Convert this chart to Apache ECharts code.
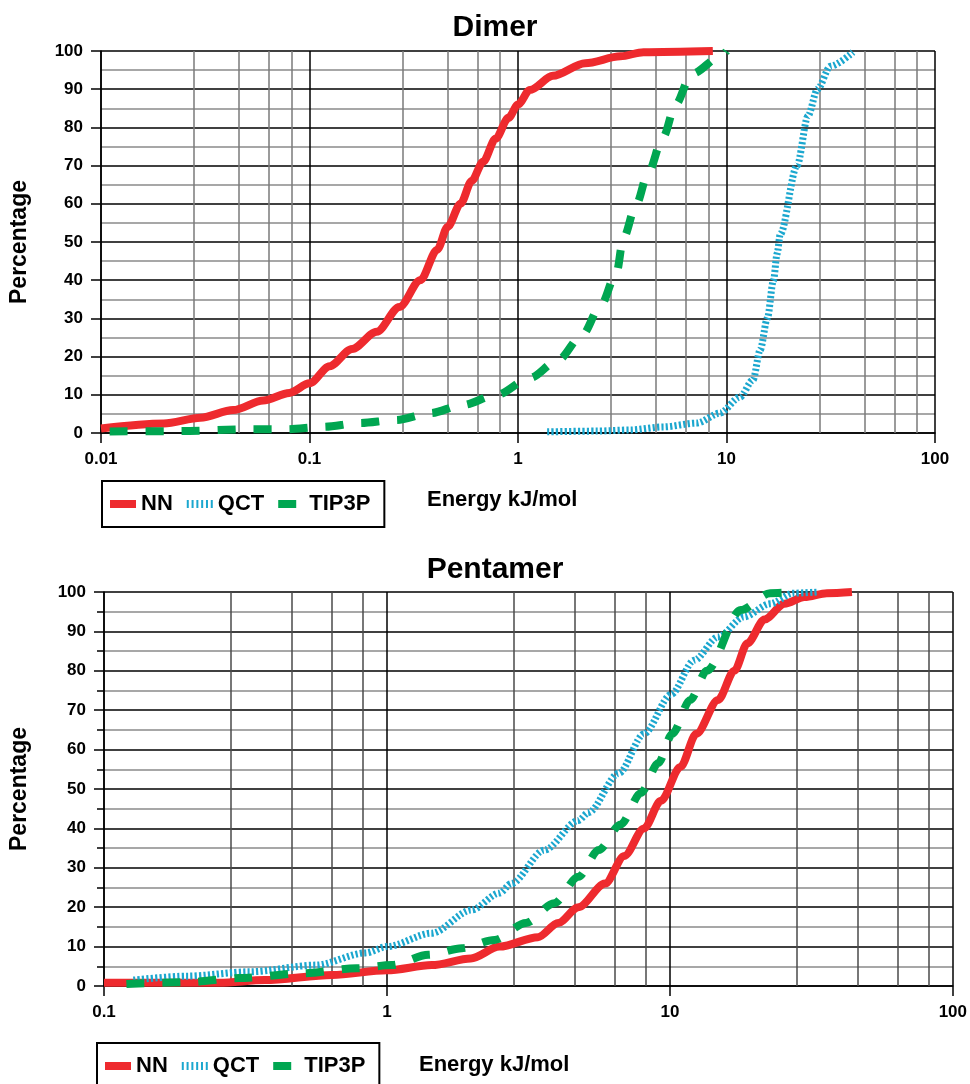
<!DOCTYPE html>
<html>
<head>
<meta charset="utf-8">
<script src="https://cdn.jsdelivr.net/npm/echarts@6/dist/echarts.min.js"></script>
<style>
  html, body { margin: 0; padding: 0; background: #fff; }
  #chart { width: 970px; height: 1084px; }
</style>
</head>
<body>
<div id="chart"></div>
<script>
  // energies (kJ/mol) vs cumulative percentage
  var dimerNN = [[0.01, 1.2], [0.02, 2.5], [0.03, 4], [0.043, 6], [0.06, 8.5], [0.08, 10.5], [0.1, 13],
    [0.125, 17.5], [0.16, 22], [0.21, 26.5], [0.27, 33], [0.34, 40], [0.41, 48], [0.46, 54], [0.53, 60],
    [0.6, 66], [0.68, 71], [0.78, 77], [0.9, 82.5], [1.0, 86], [1.14, 89.8], [1.47, 93.5], [2.1, 96.8],
    [3.1, 98.6], [4.0, 99.7], [8.6, 100]];
  var dimerQCT = [[1.38, 0.3], [2.38, 0.5], [3.45, 0.8], [4.97, 1.6], [7.2, 2.6], [9.3, 5.2], [11.6, 9.4],
    [13.4, 13.9], [14.5, 21.7], [15.7, 30], [16.8, 40], [17.5, 47], [18.1, 52], [21.8, 70], [24.6, 83],
    [27.3, 90], [31.5, 96], [40.4, 99.7]];
  var dimerTIP3P = [[0.011, 0.4], [0.024, 0.5], [0.052, 1], [0.078, 1], [0.116, 1.6], [0.174, 2.6], [0.26, 3.4],
    [0.38, 5.2], [0.54, 7.3], [0.79, 10], [1.14, 14.4], [1.55, 19], [2.03, 25.6], [2.5, 33.5], [2.97, 42],
    [3.2, 51], [3.7, 60], [4.2, 68], [4.97, 77.5], [5.7, 86], [6.8, 94], [9.6, 99], [10, 100]];

  var pentNN = [[0.1, 0.8], [0.256, 0.8], [0.37, 1.5], [0.64, 2.8], [1.0, 4], [1.44, 5.3], [1.98, 7],
    [2.5, 10], [3.42, 12.4], [4.03, 16], [4.75, 20], [5.9, 26], [6.9, 33], [8.1, 40], [9.3, 47],
    [10.9, 55.6], [12.4, 64], [14.8, 72.6], [16.9, 80], [18.8, 87], [21.6, 93], [25.4, 97], [29.9, 98.7],
    [35.9, 99.7], [44, 100]];
  var pentQCT = [[0.127, 1.5], [0.196, 2.5], [0.326, 3.6], [0.56, 5.3], [0.84, 8.4], [1.0, 10], [1.44, 13.4],
    [1.99, 19.3], [2.5, 23.6], [2.75, 26], [3.6, 34.5], [4.75, 42], [5.15, 44], [6.6, 54], [8.1, 64],
    [10.1, 74], [12.2, 82.7], [14.8, 88.6], [18.3, 93.7], [22.6, 97], [27.3, 99.7], [33, 100]];
  var pentTIP3P = [[0.12, 0.5], [0.2, 1], [0.3, 2], [0.5, 3.2], [0.78, 4.5], [1.04, 5.3], [1.4, 7.9],
    [1.84, 9.6], [2.4, 11.7], [3.1, 16], [3.9, 21], [4.75, 27.7], [5.6, 34.5], [6.7, 41], [7.9, 49],
    [9.1, 56.6], [10.2, 64], [11.8, 72.6], [13.5, 80], [17.8, 95.4], [22.6, 99.7], [28, 100]];

  var dimerDecades = [0.01, 0.1, 1, 10];
  var pentDecades = [0.1, 1, 10];
  var minorSteps = [2.8, 4.6, 6.4, 8.2];
  var seriesNames = ['NN', 'QCT', 'TIP3P'];

  var font = '"Liberation Sans", Arial, sans-serif';
  var red = '#ee2a2e', cyan = '#1ba7cf', green = '#00a651';

  function minorLines(decades) {
    var out = [];
    decades.forEach(function (d) {
      minorSteps.forEach(function (m) {
        var v = d * m;
        out.push({coords: [[v, 0], [v, 100]]});
      });
    });
    return out;
  }

  function xAxisFor(idx, min) {
    return {
      type: 'log', logBase: 10, gridIndex: idx, min: min, max: 100,
      axisLine: {lineStyle: {color: '#000', width: 1.5}},
      axisTick: {length: 10, lineStyle: {color: '#000', width: 1.5}},
      axisLabel: {color: '#000', fontFamily: font, fontWeight: 'bold', fontSize: 17, margin: 18},
      splitLine: {show: true, lineStyle: {color: '#000', width: 1.5}},
      minorTick: {show: false}, minorSplitLine: {show: false}
    };
  }

  function yAxisFor(idx, gap, minorTicks) {
    return {
      type: 'value', gridIndex: idx, min: 0, max: 100, interval: 10,
      name: 'Percentage', nameLocation: 'middle', nameGap: gap, nameRotate: 90,
      nameTextStyle: {color: '#000', fontFamily: font, fontWeight: 'bold', fontSize: 23},
      axisLine: {show: true, lineStyle: {color: '#000', width: 1.5}},
      axisTick: {show: true, length: 10, lineStyle: {color: '#000', width: 1.5}},
      axisLabel: {color: '#000', fontFamily: font, fontWeight: 'bold', fontSize: 17, margin: 18},
      splitLine: {show: true, lineStyle: {color: '#000', width: 1.5}},
      minorTick: {show: minorTicks, splitNumber: 2, length: 7, lineStyle: {color: '#000', width: 1.5}},
      minorSplitLine: {show: true, lineStyle: {color: '#8a8a8a', width: 1.5}}
    };
  }

  function curve(name, data, idx) {
    var style = {
      NN: {color: red, width: 8, type: 'solid'},
      QCT: {color: cyan, width: 7, type: [2.2, 2.2]},
      TIP3P: {color: green, width: 8, type: [18, 18]}
    }[name];
    return {
      name: name, type: 'line', xAxisIndex: idx, yAxisIndex: idx, data: data,
      showSymbol: false, symbol: 'none', smooth: 0.3, smoothMonotone: 'x',
      lineStyle: {color: style.color, width: style.width, type: style.type, cap: 'butt'},
      itemStyle: {color: style.color}, z: name === 'NN' ? 3 : (name === 'QCT' ? 4 : 5)
    };
  }

  function gridLines(idx, decades, color) {
    return {
      type: 'lines', coordinateSystem: 'cartesian2d', xAxisIndex: idx, yAxisIndex: idx,
      polyline: false, silent: true, z: 1,
      lineStyle: {color: color, width: 1.5, opacity: 1, type: 'solid'},
      data: minorLines(decades)
    };
  }

  var legendIcons = {
    NN: 'path://M0,0h26v8h-26z',
    QCT: 'path://M0,0h2v8h-2z M4.8,0h2v8h-2z M9.6,0h2v8h-2z M14.4,0h2v8h-2z M19.2,0h2v8h-2z M24,0h2v8h-2z',
    TIP3P: 'path://M0,0h18v8h-18z M25.9,7.9h0.1v0.1h-0.1z'
  };

  function legendFor(top, left) {
    return {
      top: top, left: left, orient: 'horizontal',
      data: seriesNames.map(function (n) { return {name: n, icon: legendIcons[n]}; }),
      itemWidth: 26, itemHeight: 8, itemGap: 14, symbolKeepAspect: false,
      itemStyle: {borderWidth: 0},
      padding: [12, 14, 12, 8],
      borderColor: '#000', borderWidth: 2, borderRadius: 0,
      textStyle: {color: '#000', fontFamily: font, fontWeight: 'bold', fontSize: 22}
    };
  }

  var chart = echarts.init(document.getElementById('chart'), null, {renderer: 'canvas'});
  chart.setOption({
    animation: false,
    backgroundColor: '#fff',
    title: [
      {text: 'Dimer', left: 490, top: 8, textAlign: 'center',
        textStyle: {color: '#000', fontFamily: font, fontWeight: 'bold', fontSize: 30}},
      {text: 'Pentamer', left: 490, top: 550, textAlign: 'center',
        textStyle: {color: '#000', fontFamily: font, fontWeight: 'bold', fontSize: 30}},
      {text: 'Energy kJ/mol', left: 422, top: 484,
        textStyle: {color: '#000', fontFamily: font, fontWeight: 'bold', fontSize: 22}},
      {text: 'Energy kJ/mol', left: 414, top: 1049,
        textStyle: {color: '#000', fontFamily: font, fontWeight: 'bold', fontSize: 22}}
    ],
    legend: [legendFor(481, 102), legendFor(1043, 97)],
    grid: [
      {left: 101, top: 51, width: 834, height: 382},
      {left: 104, top: 592, width: 852, height: 394}
    ],
    xAxis: [xAxisFor(0, 0.01), xAxisFor(1, 0.1)],
    yAxis: [yAxisFor(0, 70, false), yAxisFor(1, 73, true)],
    series: [
      gridLines(0, dimerDecades, '#7a7a7a'),
      gridLines(1, pentDecades, '#4a4a4a'),
      curve('NN', dimerNN, 0),
      curve('QCT', dimerQCT, 0),
      curve('TIP3P', dimerTIP3P, 0),
      curve('NN', pentNN, 1),
      curve('QCT', pentQCT, 1),
      curve('TIP3P', pentTIP3P, 1)
    ]
  });
</script>
</body>
</html>
